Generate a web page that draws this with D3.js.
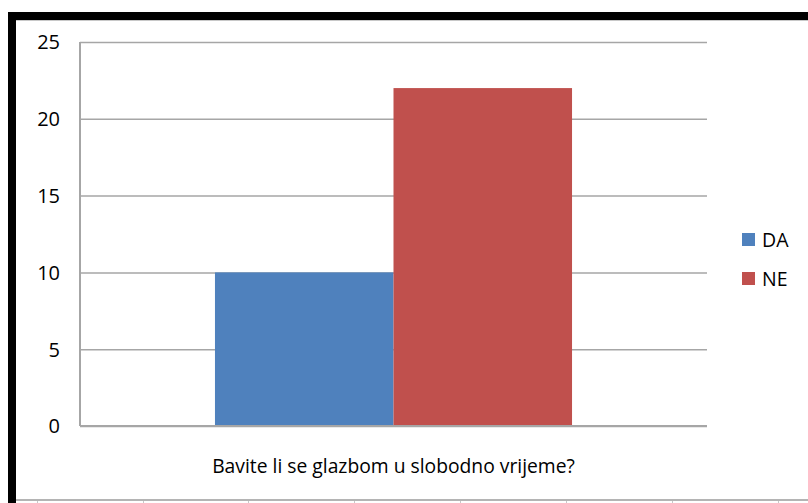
<!DOCTYPE html>
<html>
<head>
<meta charset="utf-8">
<script src="https://cdn.jsdelivr.net/npm/d3@7"></script>
<style>
html,body{margin:0;padding:0;background:#fff;}
svg{display:block;}
text{font-family:"Open Sans","Noto Sans",sans-serif;fill:#000;}
</style>
</head>
<body>
<svg id="chart" width="808" height="503"></svg>
<script>
const categories = ["Bavite li se glazbom u slobodno vrijeme?"];
const seriesNames = ["DA", "NE"];
const seriesValues = [[10], [22]];
const seriesColors = ["#4F81BD", "#C0504D"];
const yTicks = [0, 5, 10, 15, 20, 25];

const svg = d3.select("#chart");
const W = 808, H = 503;
const plot = {left: 80, right: 707, top: 42, bottom: 426};

// frame (black border as in screenshot)
svg.append("rect").attr("x", 8).attr("y", 12).attr("width", W - 8).attr("height", 8).attr("fill", "#000");
svg.append("rect").attr("x", 8).attr("y", 12).attr("width", 8).attr("height", 491).attr("fill", "#000");
svg.append("line").attr("x1", 16).attr("x2", W).attr("y1", 20.5).attr("y2", 20.5).attr("stroke", "#c8c8c8").attr("stroke-width", 1);
// bottom sheet grid line
svg.append("rect").attr("x", 16).attr("y", 499).attr("width", W - 16).attr("height", 2).attr("fill", "#b4b4b4");
const gridXs = [37, 143, 248, 354, 460, 566, 672, 778];
svg.selectAll("rect.sheetTick").data(gridXs).enter().append("rect")
  .attr("class", "sheetTick").attr("x", d => d).attr("y", 501).attr("width", 1).attr("height", 2).attr("fill", "#c8c8c8");

const y = d3.scaleLinear().domain([0, 25]).range([plot.bottom, plot.top]);
const x0 = d3.scaleBand().domain(categories).range([plot.left, plot.right]).paddingInner(0).paddingOuter(0.378);
const x1 = d3.scaleBand().domain(seriesNames).range([0, x0.bandwidth()]);

// gridlines
const yAxis = d3.axisLeft(y).tickValues(yTicks).tickSize(-(plot.right - plot.left)).tickFormat(d3.format("d")).tickPadding(20);
const gAxis = svg.append("g").attr("transform", `translate(${plot.left},0)`).call(yAxis);
gAxis.select(".domain").remove();
gAxis.selectAll(".tick line").attr("stroke", "#a6a6a6").attr("stroke-width", 1.5);
gAxis.selectAll(".tick text").attr("font-size", 20).attr("fill", "#000").attr("dy", "0.34em");

// bars
categories.forEach((c, ci) => {
  seriesNames.forEach((s, si) => {
    svg.append("rect")
      .attr("x", x0(c) + x1(s))
      .attr("y", y(seriesValues[si][ci]))
      .attr("width", x1.bandwidth())
      .attr("height", y(0) - y(seriesValues[si][ci]))
      .attr("fill", seriesColors[si]);
  });
});

// axis lines
svg.append("line").attr("x1", plot.left).attr("x2", plot.left).attr("y1", plot.top).attr("y2", plot.bottom)
  .attr("stroke", "#a6a6a6").attr("stroke-width", 2);
svg.append("line").attr("x1", plot.left).attr("x2", plot.right).attr("y1", plot.bottom).attr("y2", plot.bottom)
  .attr("stroke", "#a6a6a6").attr("stroke-width", 2);

// category label
svg.append("text").attr("x", x0(categories[0]) + x0.bandwidth() / 2).attr("y", 473)
  .attr("text-anchor", "middle").attr("font-size", 19.3).text(categories[0]);

// legend
const legend = svg.append("g");
seriesNames.forEach((s, i) => {
  const ly = 239 + i * 39;
  legend.append("rect").attr("x", 742).attr("y", ly - 6).attr("width", 13).attr("height", 13).attr("fill", seriesColors[i]);
  legend.append("text").attr("x", 762).attr("y", ly + 7.5).attr("font-size", 19.5).text(s);
});
</script>
</body>
</html>
